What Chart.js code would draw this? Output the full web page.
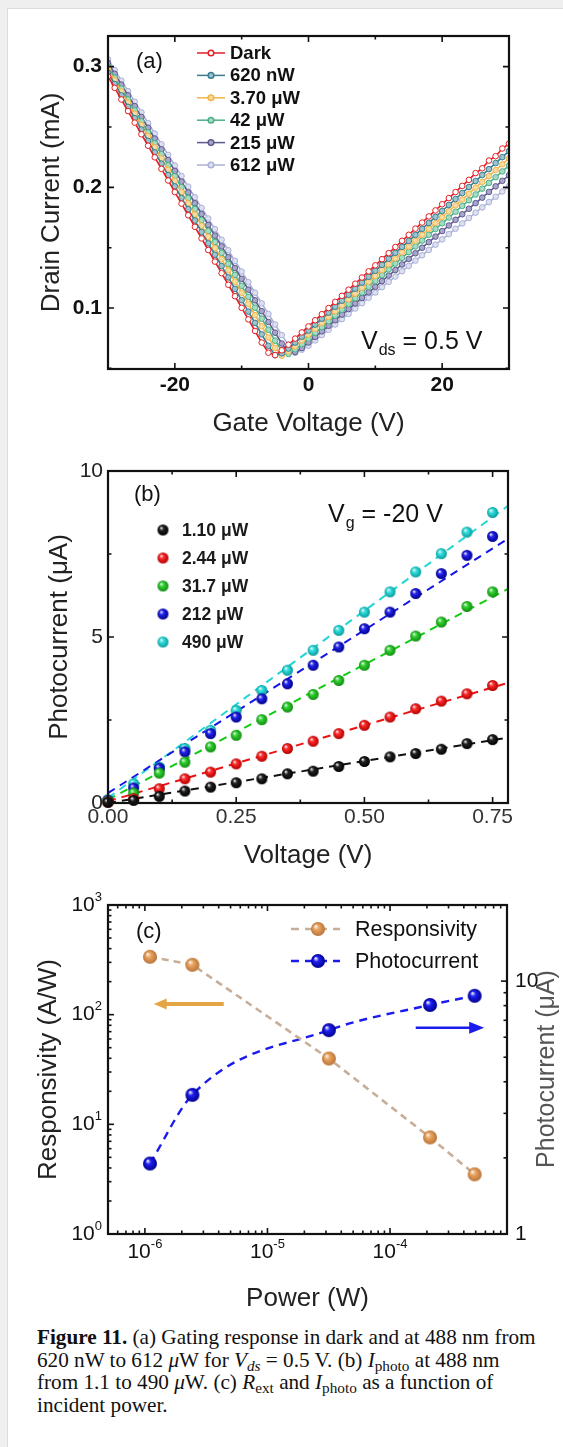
<!DOCTYPE html>
<html>
<head>
<meta charset="utf-8">
<script src="https://cdn.jsdelivr.net/npm/chart.js@4.4.1/dist/chart.umd.min.js"></script>
<style>
  html, body { margin: 0; padding: 0; background: #efefef; }
  body { width: 563px; height: 1447px; position: relative; overflow: hidden; }
  #sheet { position: absolute; left: 7px; top: 8px; right: 0; bottom: 0; background: #fff;
           border-left: 1px solid #dcdcdc; border-top: 1px solid #dcdcdc; }
  canvas { position: absolute; left: 0; z-index: 1; }
  #cvA { top: 0; }
  #cvB { top: 445px; }
  #cvC { top: 875px; }
  #caption { position: absolute; left: 37px; top: 1326px; z-index: 2; color: #111;
             font: 21.2px/22.5px "Liberation Serif", "Times New Roman", serif; white-space: nowrap; }
  #caption sub { font-size: 0.72em; line-height: 0; vertical-align: -0.28em; }
</style>
</head>
<body>
<div id="sheet"></div>
<canvas id="cvA" width="563" height="445"></canvas>
<canvas id="cvB" width="563" height="430"></canvas>
<canvas id="cvC" width="563" height="440"></canvas>
<div id="caption"><b>Figure 11.</b> (a) Gating response in dark and at 488 nm from<br>620 nW to 612 <i>μ</i>W for <i>V<sub>ds</sub></i> = 0.5 V. (b) <i>I</i><sub>photo</sub> at 488 nm<br>from 1.1 to 490 <i>μ</i>W. (c) <i>R</i><sub>ext</sub> and <i>I</i><sub>photo</sub> as a function of<br>incident power.</div>
<script>
const FONT = '"Liberation Sans", Arial, sans-serif';

// ---------- (a) gate sweep at Vds = 0.5 V ----------
const gateV = [-30,-29,-28,-27,-26,-25,-24,-23,-22,-21,-20,-19,-18,-17,-16,-15,-14,-13,-12,-11,
  -10,-9,-8,-7,-6,-5,-4,-3,-2,-1,0,1,2,3,4,5,6,7,8,9,10,11,12,13,14,15,16,17,18,19,20,
  21,22,23,24,25,26,27,28,29,30];
const gateLabels = ['Dark', '620 nW', '3.70 μW', '42 μW', '215 μW', '612 μW'];
const idDark = [.2920,.2824,.2728,.2632,.2536,.2440,.2345,.2249,.2153,.2057,
  .1961,.1865,.1769,.1673,.1577,.1481,.1385,.1289,.1193,.1098,
  .1002,.0906,.0810,.0714,.0630,.0610,.0650,.0696,.0747,.0798,
  .0848,.0899,.0949,.1000,.1051,.1101,.1152,.1202,.1253,.1304,
  .1354,.1405,.1455,.1506,.1557,.1607,.1658,.1708,.1759,.1809,
  .1860,.1911,.1961,.2012,.2062,.2118,.2158,.2222,.2258,.2322,.2362];
const id620n = [.2950,.2856,.2762,.2667,.2573,.2479,.2385,.2290,.2196,.2102,
  .2008,.1913,.1819,.1725,.1631,.1536,.1442,.1348,.1254,.1159,
  .1065,.0971,.0877,.0782,.0688,.0610,.0625,.0664,.0714,.0763,
  .0813,.0863,.0912,.0962,.1011,.1061,.1110,.1160,.1210,.1259,
  .1309,.1358,.1408,.1457,.1507,.1556,.1606,.1656,.1705,.1755,
  .1804,.1854,.1903,.1953,.2003,.2052,.2102,.2151,.2201,.2250,.2300];
const id3u70 = [.2980,.2887,.2795,.2702,.2609,.2517,.2424,.2331,.2239,.2146,
  .2053,.1961,.1868,.1775,.1683,.1590,.1497,.1405,.1312,.1219,
  .1127,.1034,.0941,.0849,.0756,.0670,.0605,.0640,.0682,.0731,
  .0780,.0828,.0877,.0926,.0974,.1023,.1072,.1120,.1169,.1218,
  .1266,.1315,.1364,.1412,.1461,.1510,.1558,.1607,.1656,.1704,
  .1753,.1802,.1851,.1899,.1948,.1997,.2045,.2094,.2143,.2191,.2240];
const id42u = [.3000,.2909,.2818,.2728,.2637,.2546,.2455,.2365,.2274,.2183,
  .2092,.2001,.1911,.1820,.1729,.1638,.1547,.1457,.1366,.1275,
  .1184,.1093,.1003,.0912,.0821,.0730,.0650,.0620,.0658,.0700,
  .0747,.0795,.0843,.0891,.0938,.0986,.1034,.1082,.1129,.1177,
  .1225,.1273,.1320,.1368,.1416,.1464,.1511,.1559,.1607,.1655,
  .1702,.1750,.1798,.1846,.1893,.1941,.1989,.2037,.2084,.2132,.2180];
const id215u = [.3030,.2941,.2851,.2762,.2673,.2583,.2494,.2404,.2315,.2226,
  .2136,.2047,.1958,.1868,.1779,.1689,.1600,.1511,.1421,.1332,
  .1242,.1153,.1064,.0974,.0885,.0796,.0706,.0630,.0635,.0669,
  .0715,.0761,.0807,.0853,.0899,.0946,.0992,.1038,.1084,.1130,
  .1176,.1223,.1269,.1315,.1361,.1407,.1454,.1500,.1546,.1592,
  .1638,.1684,.1731,.1777,.1823,.1869,.1915,.1962,.2008,.2054,.2100];
const id612u = [.3060,.2972,.2884,.2797,.2709,.2621,.2533,.2445,.2357,.2269,
  .2181,.2094,.2006,.1918,.1830,.1742,.1654,.1566,.1479,.1391,
  .1303,.1215,.1127,.1039,.0951,.0864,.0776,.0695,.0630,.0655,
  .0688,.0732,.0776,.0820,.0864,.0908,.0952,.0996,.1040,.1085,
  .1129,.1173,.1217,.1261,.1305,.1349,.1393,.1437,.1481,.1525,
  .1569,.1613,.1657,.1701,.1746,.1790,.1834,.1878,.1922,.1966,.2010];

// ---------- (b) photocurrent vs bias at Vg = -20 V ----------
const biasV = [0,0.05,0.1,0.15,0.2,0.25,0.3,0.35,0.4,0.45,0.5,0.55,0.6,0.65,0.7,0.75];
const biasLabels = ['1.10 μW', '2.44 μW', '31.7 μW', '212 μW', '490 μW'];
const ip1u10 = [0.02,0.08,0.20,0.36,0.48,0.61,0.73,0.88,0.96,1.10,1.25,1.39,1.49,1.62,1.79,1.91];
const ip2u44 = [0.03,0.13,0.43,0.73,0.93,1.18,1.41,1.64,1.86,2.09,2.34,2.59,2.84,3.07,3.29,3.54];
const ip31u7 = [0.05,0.30,0.90,1.23,1.69,2.04,2.51,2.89,3.27,3.69,4.15,4.60,5.03,5.45,5.92,6.36];
const ip212u = [0.08,0.45,1.05,1.54,2.09,2.59,3.14,3.59,4.15,4.70,5.25,5.75,6.31,6.91,7.46,8.03];
const ip490u = [0.10,0.58,1.08,1.64,2.19,2.79,3.39,4.00,4.60,5.20,5.75,6.36,6.96,7.51,8.16,8.75];
// linear fits, drawn over the whole bias range
const fitV = [0, 0.78];
const fit1u10 = [0.00, 1.97];
const fit2u44 = [0.05, 3.62];
const fit31u7 = [0.10, 6.45];
const fit212u = [0.30, 7.96];
const fit490u = [0.15, 8.95];

// ---------- (c) responsivity and photocurrent vs power ----------
const powerW = [1.1e-6, 2.44e-6, 3.17e-5, 2.12e-4, 4.9e-4];
const respAW = [337, 285, 39.8, 7.6, 3.5];
const photoUA = [1.9, 3.55, 6.4, 8.05, 8.75];
// axis-pointing arrows (power span, value on the axis they point to)
const arrowRespW = [4.4e-6, 1.18e-6], arrowRespY = 125;
const arrowPhotoW = [1.62e-4, 5.86e-4], arrowPhotoY = 6.54;

// shaded ball marker
function sphere(color, dark, r) {
  const c = document.createElement('canvas');
  const s = Math.ceil(r * 2 + 2);
  c.width = c.height = s;
  const g = c.getContext('2d');
  const m = s / 2;
  const grad = g.createRadialGradient(m - r * 0.35, m - r * 0.4, r * 0.05, m, m, r);
  grad.addColorStop(0, '#f4f4f4');
  grad.addColorStop(0.35, color);
  grad.addColorStop(1, dark);
  g.fillStyle = grad;
  g.beginPath(); g.arc(m, m, r, 0, Math.PI * 2); g.fill();
  return c;
}

function pts(xs, ys) { return xs.map((x, i) => ({x, y: ys[i]})); }

// inward tick marks + box
function tickValues(scale, spec) {
  const out = [];
  if (spec.log) {
    const lo = Math.floor(Math.log10(scale.min)), hi = Math.ceil(Math.log10(scale.max));
    for (let d = lo; d <= hi; d++) for (let k = 1; k <= 9; k++) {
      const v = k * Math.pow(10, d);
      if (v >= scale.min * 0.9999 && v <= scale.max * 1.0001) out.push({v, major: k === 1});
    }
  } else {
    const n0 = Math.ceil(scale.min / spec.minor - 1e-9), n1 = Math.floor(scale.max / spec.minor + 1e-9);
    for (let n = n0; n <= n1; n++) {
      const v = n * spec.minor, r = v / spec.major;
      out.push({v, major: Math.abs(r - Math.round(r)) < 1e-6});
    }
  }
  return out;
}
function framePlugin(specs) {
  return {
    id: 'frame',
    afterDatasetsDraw(chart) {
      const {ctx, chartArea: a} = chart;
      ctx.save();
      ctx.strokeStyle = '#111';
      ctx.lineWidth = 1.6;
      for (const spec of specs) {
        const s = chart.scales[spec.id];
        for (const t of tickValues(s, spec)) {
          const p = s.getPixelForValue(t.v);
          const L = t.major ? 6 : 3.5;
          ctx.beginPath();
          if (s.isHorizontal()) {
            if (spec.sides.includes('bottom')) { ctx.moveTo(p, a.bottom); ctx.lineTo(p, a.bottom - L); }
            if (spec.sides.includes('top')) { ctx.moveTo(p, a.top); ctx.lineTo(p, a.top + L); }
          } else {
            if (spec.sides.includes('left')) { ctx.moveTo(a.left, p); ctx.lineTo(a.left + L, p); }
            if (spec.sides.includes('right')) { ctx.moveTo(a.right, p); ctx.lineTo(a.right - L, p); }
          }
          ctx.stroke();
        }
      }
      ctx.lineWidth = 2.2;
      ctx.strokeRect(a.left, a.top, a.right - a.left, a.bottom - a.top);
      ctx.restore();
    }
  };
}

// label only every "every"-th step
function every(step, fmt) {
  return v => {
    const r = v / step;
    return Math.abs(r - Math.round(r)) < 1e-6 ? fmt(v) : '';
  };
}
function axisTitle(text, pad) {
  return {display: true, text, color: '#222', font: {family: FONT, size: 26}, padding: pad};
}
function tickFont(size, weight) { return {family: FONT, size, weight: weight || 'normal'}; }
const noGrid = {display: false, drawTicks: false};
const common = {
  responsive: false, animation: false, events: [],
  plugins: {legend: {display: false}, tooltip: {enabled: false}}
};

function subText(ctx, x, y, main, sub, rest, size) {
  ctx.font = `${size}px ${FONT}`;
  ctx.fillText(main, x, y);
  x += ctx.measureText(main).width;
  ctx.font = `${Math.round(size * 0.62)}px ${FONT}`;
  ctx.fillText(sub, x + 1, y + size * 0.36);
  x += ctx.measureText(sub).width + 1;
  ctx.font = `${size}px ${FONT}`;
  ctx.fillText(rest, x, y);
}

// ===================== (a) =====================
const colA = ['#e31e24', '#3b7d8e', '#f0b44a', '#4caf88', '#5d5a8c', '#aab0d6'];
const fillA = ['#ffffff', '#9cc4cf', '#f8dba0', '#a7dcc4', '#a9a6cc', '#dde0f0'];
const gateSeries = [idDark, id620n, id3u70, id42u, id215u, id612u];

new Chart(document.getElementById('cvA'), {
  type: 'line',
  data: {
    datasets: gateSeries.map((ys, i) => ({
      label: gateLabels[i],
      data: pts(gateV, ys),
      borderColor: colA[i], borderWidth: 1.6,
      pointRadius: 2.8, pointBorderWidth: 1, pointBorderColor: colA[i],
      pointBackgroundColor: fillA[i], tension: 0, order: i
    }))
  },
  options: Object.assign({}, common, {
    layout: {padding: {top: 36, left: 0, right: 0, bottom: 0}},
    scales: {
      x: {type: 'linear', min: -30, max: 30, grid: noGrid, border: {display: false},
          ticks: {stepSize: 10, includeBounds: false, autoSkip: false, maxRotation: 0, padding: 4,
                  color: '#111', font: tickFont(21, 'bold'), callback: every(20, v => String(v))},
          title: axisTitle('Gate Voltage (V)', {top: 0, bottom: 6}),
          afterFit: s => { s.height = 76; }},
      y: {type: 'linear', min: 0.0495, max: 0.3254, grid: noGrid, border: {display: false},
          ticks: {stepSize: 0.1, includeBounds: false, autoSkip: false, padding: 6,
                  color: '#111', font: tickFont(21, 'bold'), callback: v => v.toFixed(1)},
          title: axisTitle('Drain Current (mA)', {top: 36, bottom: 0}),
          afterFit: s => { s.width = 108; }},
      y2: {type: 'linear', position: 'right', min: 0.0495, max: 0.3254, grid: noGrid,
           border: {display: false}, ticks: {display: false},
           afterFit: s => { s.width = 54; }}
    }
  }),
  plugins: [framePlugin([
    {id: 'x', minor: 10, major: 20, sides: ['bottom', 'top']},
    {id: 'y', minor: 0.05, major: 0.1, sides: ['left', 'right']}
  ]), {
    id: 'decorA',
    afterDraw(chart) {
      const ctx = chart.ctx;
      ctx.save();
      ctx.textBaseline = 'middle';
      ctx.fillStyle = '#111';
      ctx.font = `22px ${FONT}`;
      ctx.fillText('(a)', 136, 62);
      chart.data.datasets.forEach((ds, i) => {
        const y = 53 + i * 22.4;
        ctx.strokeStyle = ds.borderColor;
        ctx.lineWidth = 1.5;
        ctx.beginPath(); ctx.moveTo(197, y); ctx.lineTo(225, y); ctx.stroke();
        ctx.beginPath(); ctx.arc(211, y, 2.8, 0, Math.PI * 2);
        ctx.fillStyle = ds.pointBackgroundColor; ctx.fill(); ctx.stroke();
        ctx.fillStyle = '#111';
        ctx.font = `bold 18.5px ${FONT}`;
        ctx.fillText(ds.label, 230, y + 1);
      });
      ctx.fillStyle = '#111';
      subText(ctx, 361, 342, 'V', 'ds', ' = 0.5 V', 25);
      ctx.restore();
    }
  }]
});

// ===================== (b) =====================
const colB = [['#222222', '#000000'], ['#ff2a2a', '#b00000'], ['#33d433', '#108a10'],
              ['#2424f0', '#00008a'], ['#33e0e0', '#0a9a9a']];
const lineB = ['#111111', '#ee1111', '#11cc11', '#1515e6', '#22d6d6'];
const ballB = colB.map(c => sphere(c[0], c[1], 5.5));
const biasSeries = [ip1u10, ip2u44, ip31u7, ip212u, ip490u];
const fitSeries = [fit1u10, fit2u44, fit31u7, fit212u, fit490u];

new Chart(document.getElementById('cvB'), {
  type: 'line',
  data: {
    datasets: [
      ...biasSeries.map((ys, i) => ({
        label: biasLabels[i], data: pts(biasV, ys), showLine: false,
        pointStyle: ballB[i], pointRadius: 5.5, order: 1, clip: false
      })),
      ...fitSeries.map((ys, i) => ({
        label: 'fit ' + biasLabels[i], data: pts(fitV, ys), borderColor: lineB[i],
        borderWidth: 2, borderDash: [8, 6], pointRadius: 0, order: 2
      }))
    ]
  },
  options: Object.assign({}, common, {
    layout: {padding: {top: 26, left: 0, right: 0, bottom: 0}},
    scales: {
      x: {type: 'linear', min: 0, max: 0.78, grid: noGrid, border: {display: false},
          ticks: {stepSize: 0.25, includeBounds: false, autoSkip: false, maxRotation: 0, padding: 2,
                  color: '#333', font: tickFont(21), callback: v => v.toFixed(2)},
          title: axisTitle('Voltage (V)', {top: 0, bottom: 4}),
          afterFit: s => { s.height = 72; }},
      y: {type: 'linear', min: 0, max: 10, grid: noGrid, border: {display: false},
          ticks: {stepSize: 5, includeBounds: false, autoSkip: false, padding: 5,
                  color: '#222', font: tickFont(21), callback: v => String(v)},
          title: axisTitle('Photocurrent (μA)', {top: 44, bottom: 0}),
          afterFit: s => { s.width = 108; }},
      y2: {type: 'linear', position: 'right', min: 0, max: 10, grid: noGrid,
           border: {display: false}, ticks: {display: false},
           afterFit: s => { s.width = 55; }}
    }
  }),
  plugins: [framePlugin([
    {id: 'x', minor: 0.125, major: 0.25, sides: ['bottom', 'top']},
    {id: 'y', minor: 2.5, major: 5, sides: ['left', 'right']}
  ]), {
    id: 'decorB',
    afterDraw(chart) {
      const ctx = chart.ctx;
      ctx.save();
      ctx.textBaseline = 'middle';
      ctx.fillStyle = '#111';
      ctx.font = `22px ${FONT}`;
      ctx.fillText('(b)', 134, 50);
      biasLabels.forEach((lab, i) => {
        const y = 85 + i * 28;
        const img = ballB[i];
        ctx.drawImage(img, 163 - img.width / 2, y - img.height / 2);
        ctx.fillStyle = '#1a1a1a';
        ctx.font = `bold 17.5px ${FONT}`;
        ctx.fillText(lab, 182, y + 1);
      });
      ctx.fillStyle = '#111';
      subText(ctx, 328, 70, 'V', 'g', ' = -20 V', 25);
      ctx.restore();
    }
  }]
});

// ===================== (c) =====================
const ballResp = sphere('#eba45e', '#b8733a', 7);
const ballPhoto = sphere('#1f1ff2', '#00008c', 7);
const respColor = '#c7ae98', photoColor = '#1b1bef';

function drawArrow(ctx, x1, x2, y, color, w, head, half) {
  const dir = Math.sign(x2 - x1);
  ctx.strokeStyle = color; ctx.fillStyle = color; ctx.lineWidth = w;
  ctx.beginPath(); ctx.moveTo(x1, y); ctx.lineTo(x2 - dir * head * 0.8, y); ctx.stroke();
  ctx.beginPath(); ctx.moveTo(x2, y); ctx.lineTo(x2 - dir * head, y - half);
  ctx.lineTo(x2 - dir * head, y + half); ctx.closePath(); ctx.fill();
}
function drawPow(ctx, x, y, exp, align) {
  ctx.font = `21px ${FONT}`;
  const wb = ctx.measureText('10').width;
  ctx.font = `13px ${FONT}`;
  const we = ctx.measureText(exp).width;
  let x0 = align === 'right' ? x - wb - we : x - (wb + we) / 2;
  ctx.textAlign = 'left';
  ctx.font = `21px ${FONT}`;
  ctx.fillText('10', x0, y);
  ctx.font = `13px ${FONT}`;
  ctx.fillText(exp, x0 + wb, y - 8);
}

new Chart(document.getElementById('cvC'), {
  type: 'line',
  data: {
    datasets: [
      {label: 'Responsivity', data: pts(powerW, respAW), yAxisID: 'y',
       borderColor: respColor, borderWidth: 2.6, borderDash: [7, 5], tension: 0,
       pointStyle: ballResp, pointRadius: 7},
      {label: 'Photocurrent', data: pts(powerW, photoUA), yAxisID: 'y2',
       borderColor: photoColor, borderWidth: 2.4, borderDash: [8, 6], cubicInterpolationMode: 'monotone',
       pointStyle: ballPhoto, pointRadius: 7}
    ]
  },
  options: Object.assign({}, common, {
    layout: {padding: {top: 30, left: 0, right: 0, bottom: 0}},
    scales: {
      x: {type: 'logarithmic', min: 5e-7, max: 9e-4, grid: noGrid, border: {display: false},
          ticks: {display: false},
          title: axisTitle('Power (W)', {top: 0, bottom: 1}),
          afterFit: s => { s.height = 81; }},
      y: {type: 'logarithmic', min: 1, max: 1000, grid: noGrid, border: {display: false},
          ticks: {display: false},
          title: axisTitle('Responsivity (A/W)', {top: 33, bottom: 0}),
          afterFit: s => { s.width = 108; }},
      y2: {type: 'logarithmic', position: 'right', min: 1, max: 20, grid: noGrid,
           border: {display: false},
           ticks: {autoSkip: false, padding: 8, color: '#111', font: tickFont(21),
                   callback: v => (v === 1 ? '1' : v === 10 ? '10' : '')},
           afterFit: s => { s.width = 56; }}
    }
  }),
  plugins: [framePlugin([
    {id: 'x', log: true, sides: ['bottom', 'top']},
    {id: 'y', log: true, sides: ['left']},
    {id: 'y2', log: true, sides: ['right']}
  ]), {
    id: 'decorC',
    afterDraw(chart) {
      const ctx = chart.ctx, a = chart.chartArea;
      const sx = chart.scales.x, sy = chart.scales.y, sy2 = chart.scales.y2;
      ctx.save();
      ctx.textBaseline = 'middle';
      ctx.fillStyle = '#111';
      // log tick labels
      [0, 1, 2, 3].forEach(e => drawPow(ctx, a.left - 6, sy.getPixelForValue(Math.pow(10, e)), String(e), 'right'));
      [-6, -5, -4].forEach(e => drawPow(ctx, sx.getPixelForValue(Math.pow(10, e)), a.bottom + 18, String(e), 'center'));
      ctx.font = `22px ${FONT}`;
      ctx.fillText('(c)', 136, 57);
      // arrows
      drawArrow(ctx, sx.getPixelForValue(arrowRespW[0]), sx.getPixelForValue(arrowRespW[1]),
                sy.getPixelForValue(arrowRespY), '#e6a545', 4, 13, 5.5);
      drawArrow(ctx, sx.getPixelForValue(arrowPhotoW[0]), sx.getPixelForValue(arrowPhotoW[1]),
                sy2.getPixelForValue(arrowPhotoY), photoColor, 2.4, 15, 6);
      // legend
      const rows = [[respColor, ballResp, 'Responsivity', 54], [photoColor, ballPhoto, 'Photocurrent', 86]];
      rows.forEach(([col, img, lab, y]) => {
        ctx.strokeStyle = col; ctx.lineWidth = 2.4; ctx.setLineDash([8, 6]);
        ctx.beginPath(); ctx.moveTo(291, y); ctx.lineTo(340, y); ctx.stroke();
        ctx.setLineDash([]);
        ctx.drawImage(img, 318 - img.width / 2, y - img.height / 2);
        ctx.fillStyle = '#111';
        ctx.font = `21.5px ${FONT}`;
        ctx.fillText(lab, 355, y + 1);
      });
      // right axis title
      ctx.translate(547, 194);
      ctx.rotate(-Math.PI / 2);
      ctx.textAlign = 'center';
      ctx.fillStyle = '#555';
      ctx.font = `25px ${FONT}`;
      ctx.fillText('Photocurrent (μA)', 0, 0);
      ctx.restore();
    }
  }]
});
</script>
</body>
</html>
